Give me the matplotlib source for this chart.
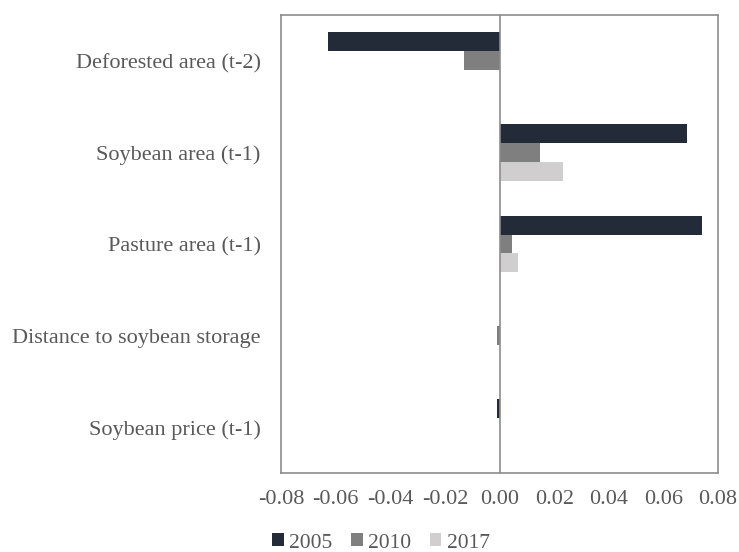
import matplotlib
matplotlib.use("Agg")
import matplotlib.pyplot as plt
import numpy as np

categories = ["Deforested area (t-2)", "Soybean area (t-1)", "Pasture area (t-1)",
              "Distance to soybean storage", "Soybean price (t-1)"]
years = ["2005", "2010", "2017"]
v2005 = [-0.0627, 0.0688, 0.0742, 0.0, -0.0010]
v2010 = [-0.0130, 0.0149, 0.0045, -0.0008, 0.0]
v2017 = [0.0, 0.0232, 0.0066, 0.0, 0.0]
colors = ["#232b38", "#7f7f7f", "#d0cece"]

plt.rcParams["font.family"] = ["Liberation Serif", "DejaVu Serif"]
txt = "#595959"
edge = "#8c8c8c"

fig = plt.figure(figsize=(7.39, 5.52), dpi=100)
ax = fig.add_axes([281 / 739, 1 - 473 / 552, 437 / 739, 458 / 552])

y = np.arange(len(categories))
h = 0.207
for i, (vals, lab) in enumerate(zip([v2005, v2010, v2017], years)):
    ax.barh(y + (i - 1) * h, vals, height=h, color=colors[i], label=lab)

ax.set_xlim(-0.08, 0.08)
ax.set_ylim(len(categories) - 0.5, -0.5)
ax.set_xticks(np.arange(-0.08, 0.0801, 0.02))
ax.set_xticklabels([f"{t:.2f}" for t in np.arange(-0.08, 0.0801, 0.02)])
ax.set_yticks(y)
ax.set_yticklabels(categories)
ax.tick_params(length=0, labelsize=16, labelcolor=txt)
ax.tick_params(axis="x", pad=12)
ax.tick_params(axis="y", pad=14.5)
ax.axvline(0, color=edge, lw=1.2)
for s in ax.spines.values():
    s.set_color(edge)
    s.set_linewidth(1.2)

leg = fig.legend(loc="center", bbox_to_anchor=(381 / 739, 1 - 543 / 552), ncol=3,
                 frameon=False, fontsize=15.5, handlelength=0.55, handleheight=0.55,
                 handletextpad=0.25, columnspacing=0.85, labelcolor=txt)

fig.savefig("out.png", dpi=100)
